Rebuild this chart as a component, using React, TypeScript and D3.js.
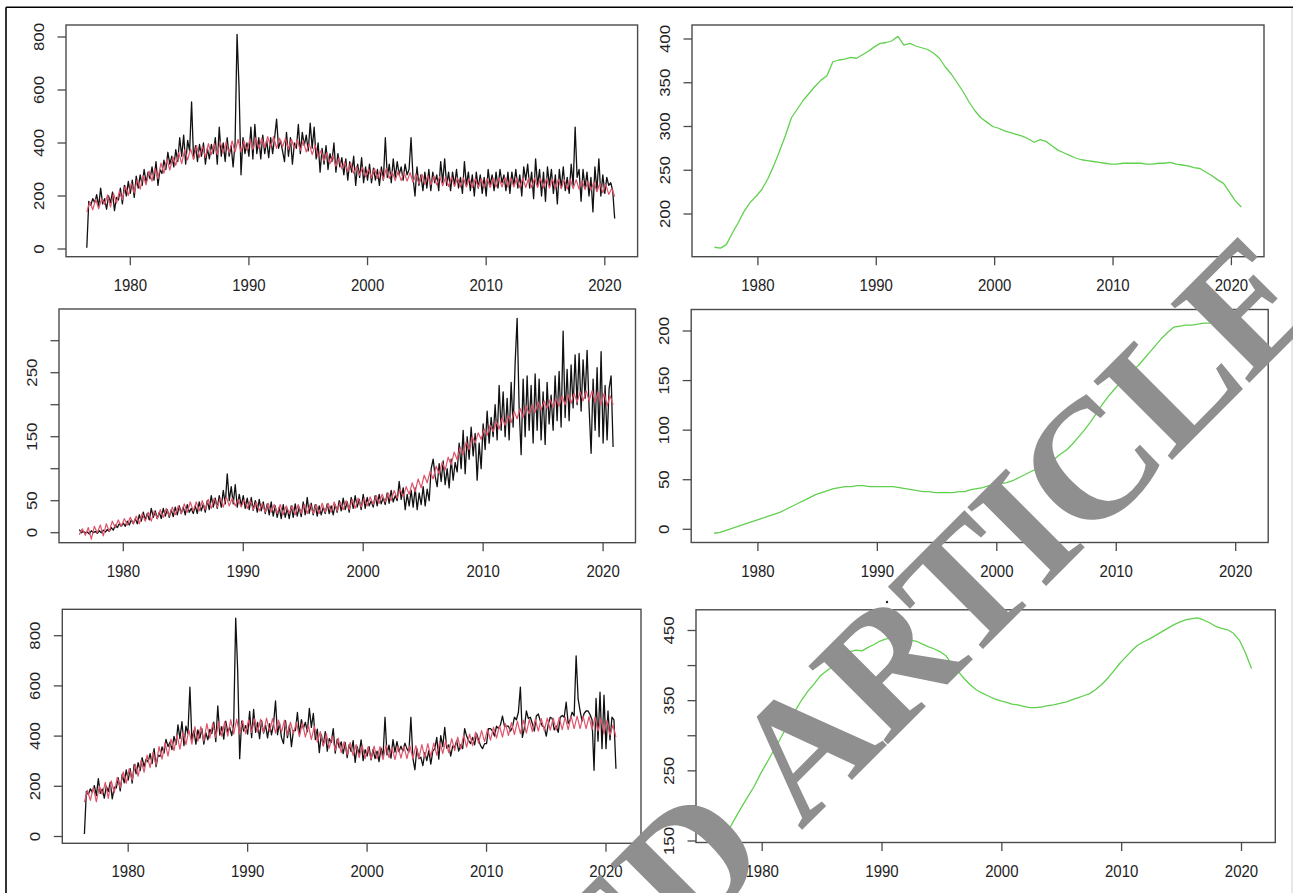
import React from 'react';
import * as d3 from 'd3';

// ---------- time index (monthly series, sampled) ----------
const START = 1976.333;
const END = 2020.833;
const YEAR_TICKS = [1980, 1990, 2000, 2010, 2020];

// ---------- Panel 1 (top-left): observed (black) and fitted (red) ----------
const p1Black = [
  5, 180, 165, 190,
  175, 205, 160, 230, 170, 190,
  150, 200, 175, 215, 145, 195,
  185, 230, 170, 240, 200, 255,
  210, 260, 195, 275, 230, 280,
  240, 300, 250, 290, 265, 310,
  260, 330, 240, 300, 285, 335,
  300, 365, 320, 350, 310, 375,
  330, 420, 350, 430, 320, 410,
  370, 555, 340, 390, 330, 395,
  350, 400, 320, 380, 340, 395,
  360, 420, 320, 460, 350, 400,
  330, 420, 350, 390, 310, 400,
  810, 610, 280, 420, 360, 400,
  350, 460, 340, 470, 360, 420,
  340, 430, 360, 410, 345, 420,
  360, 420, 490, 380, 410, 370,
  330, 440, 350, 420, 320, 400,
  380, 470, 360, 440, 390, 430,
  370, 475, 380, 460, 340, 400,
  290, 380, 320, 390, 300, 360,
  330, 400, 290, 360, 310, 345,
  280, 340, 260, 330, 290, 350,
  240, 320, 270, 345, 250, 310,
  260, 320, 250, 305, 260, 300,
  240, 310, 260, 420, 270, 320,
  250, 340, 270, 330, 280, 310,
  260, 320, 280, 300, 420, 270,
  200, 310, 240, 280, 220, 290,
  230, 300, 220, 290, 250, 280,
  220, 330, 250, 340, 240, 290,
  220, 290, 240, 300, 230, 270,
  210, 330, 240, 290, 220, 280,
  200, 290, 230, 280, 210, 270,
  200, 300, 240, 280, 220, 290,
  230, 300, 250, 280, 220, 290,
  210, 290, 240, 300, 230, 280,
  200, 310, 260, 320, 230, 290,
  190, 340, 240, 300, 200, 290,
  180, 310, 240, 300, 210, 280,
  170, 300, 230, 310, 220, 270,
  210, 320, 240, 460, 270, 300,
  180, 300, 230, 290, 200, 270,
  140, 310, 220, 340, 200, 280,
  210, 270, 240, 250, 220, 115,
];
const p1Red = [
  140, 178, 148,
  188, 152, 190, 168,
  204, 158, 210, 172,
  218, 186, 238, 202,
  248, 212, 262, 226,
  278, 242, 294, 256,
  304, 266, 324, 286,
  338, 298, 348, 316,
  364, 322, 374, 336,
  378, 338, 390, 346,
  388, 346, 398, 356,
  398, 356, 404, 362,
  404, 362, 408, 366,
  414, 366, 408, 372,
  414, 376, 420, 380,
  418, 382, 424, 386,
  424, 380, 418, 386,
  418, 376, 414, 380,
  412, 372, 408, 366,
  398, 356, 392, 346,
  372, 332, 364, 322,
  352, 312, 344, 302,
  328, 292, 324, 286,
  312, 278, 308, 272,
  302, 268, 304, 266,
  298, 262, 304, 266,
  292, 258, 294, 258,
  290, 256, 288, 252,
  284, 246, 282, 244,
  278, 242, 276, 242,
  274, 238, 272, 236,
  272, 236, 268, 234,
  268, 234, 266, 232,
  266, 232, 266, 232,
  266, 232, 268, 234,
  268, 234, 270, 234,
  268, 234, 268, 232,
  268, 232, 268, 232,
  268, 232, 266, 230,
  266, 230, 264, 228,
  264, 228, 262, 226,
  264, 228, 262, 226,
  258, 224, 256, 222,
  254, 216, 248, 212,
  244, 206, 228, 198,
];

// ---------- Panel 2 (top-right): trend (green) ----------
const p2Trend = [
  162, 161, 165, 178, 190, 203, 213, 220, 228, 240,
  255, 272, 290, 310, 320, 330, 338, 346, 353, 358,
  374, 376, 377, 379, 378, 382, 386, 391, 395, 396,
  398, 403, 393, 395, 392, 390, 388, 384, 378, 368,
  360, 350, 340, 328, 318, 310, 305, 300, 298, 295,
  293, 291, 289, 286, 282, 285, 283, 278, 273, 270,
  267, 264, 262, 261, 260, 259, 258, 257, 257, 258,
  258, 258, 258, 257, 257, 258, 258, 259, 257, 256,
  255, 253, 252, 248, 244, 239, 235, 225, 215, 208,
];

// ---------- Panel 3 (middle-left) ----------
const p3Black = [
  5, 0, 2, 0,
  1, -2, 3, 0, 2, -1,
  3, 0, 4, 1, 5, 2,
  8, 4, 12, 8, 14, 10,
  15, 10, 18, 12, 20, 14,
  22, 14, 28, 18, 32, 20,
  30, 20, 38, 24, 34, 22,
  32, 22, 38, 26, 36, 24,
  36, 25, 40, 28, 42, 30,
  40, 28, 44, 32, 38, 30,
  42, 30, 48, 34, 45, 32,
  50, 36, 58, 40, 54, 38,
  58, 40, 66, 45, 92, 50,
  72, 45, 75, 40, 60, 42,
  58, 38, 54, 36, 55, 35,
  50, 32, 52, 34, 48, 30,
  45, 28, 48, 26, 42, 24,
  40, 22, 44, 24, 38, 22,
  42, 24, 45, 26, 40, 25,
  48, 28, 55, 30, 46, 28,
  44, 26, 42, 28, 40, 30,
  45, 30, 42, 28, 44, 32,
  50, 34, 54, 36, 48, 32,
  55, 38, 58, 40, 52, 36,
  60, 38, 55, 42, 50, 40,
  58, 42, 60, 45, 55, 44,
  62, 46, 66, 48, 58, 50,
  80, 52, 70, 36, 60, 42,
  66, 40, 70, 36, 62, 44,
  72, 42, 68, 50, 100, 115,
  88, 72, 108, 80, 112, 75,
  100, 70, 115, 82, 110, 95,
  140, 100, 160, 92, 150, 115,
  165, 120, 155, 82, 140, 100,
  170, 130, 190, 140, 180, 150,
  200, 145, 230, 160, 220, 150,
  210, 145, 235, 165, 265, 335,
  195, 122, 240, 150, 245, 160,
  230, 140, 248, 160, 240, 145,
  220, 138, 235, 170, 215, 160,
  245, 175, 252, 165, 315, 180,
  255, 175, 262, 195, 278, 200,
  280, 190, 270, 210, 285, 195,
  124, 240, 160, 258, 150, 283,
  140, 230, 145, 225, 245, 134,
];
const p3Red = [
  -3, 6, -4,
  8, -10, 10, 0,
  12, -5, 14, 2,
  18, 8, 20, 10,
  22, 12, 24, 14,
  26, 14, 30, 18,
  32, 18, 34, 22,
  36, 24, 38, 26,
  40, 28, 42, 30,
  45, 32, 48, 34,
  48, 34, 50, 36,
  52, 38, 54, 40,
  54, 40, 56, 42,
  54, 42, 52, 40,
  52, 38, 50, 36,
  48, 34, 46, 32,
  46, 32, 44, 30,
  44, 28, 42, 30,
  42, 28, 44, 30,
  44, 30, 45, 30,
  44, 30, 46, 32,
  46, 32, 48, 34,
  48, 36, 50, 36,
  52, 38, 54, 40,
  54, 42, 56, 44,
  58, 46, 60, 48,
  62, 50, 66, 54,
  68, 56, 72, 60,
  78, 64, 84, 70,
  90, 78, 96, 84,
  104, 92, 110, 98,
  118, 106, 126, 114,
  134, 122, 142, 130,
  150, 140, 156, 146,
  162, 152, 168, 158,
  174, 162, 180, 168,
  184, 172, 190, 178,
  194, 180, 198, 186,
  200, 188, 204, 192,
  206, 194, 208, 196,
  210, 198, 214, 200,
  216, 202, 218, 204,
  220, 206, 222, 206,
  222, 204, 220, 200,
  218, 198, 214, 200,
];

// ---------- Panel 4 (middle-right) ----------
const p4Trend = [
  -4, -3, -1, 1, 3, 5, 7, 9, 11, 13,
  15, 17, 20, 23, 26, 29, 32, 35, 37, 39,
  41, 42, 43, 43, 44, 44, 43, 43, 43, 43,
  43, 42, 41, 40, 39, 38, 38, 37, 37, 37,
  37, 38, 38, 40, 41, 42, 44, 45, 46, 47,
  49, 52, 55, 58, 61, 64, 67, 71, 76, 80,
  86, 93, 100, 108, 117, 126, 134, 141, 148, 154,
  160, 165, 172, 179, 186, 193, 199, 204, 205, 206,
  206, 207, 208, 208, 209, 210, 211, 213, 212, 200,
];

// ---------- Panel 5 (bottom-left) ----------
const p5Black = [
  10, 180, 167, 190,
  176, 203, 163, 230, 172, 189,
  153, 200, 179, 216, 150, 197,
  193, 234, 182, 248, 214, 265,
  225, 270, 213, 287, 250, 294,
  262, 314, 278, 308, 297, 330,
  290, 350, 278, 324, 319, 357,
  332, 387, 358, 376, 346, 399,
  366, 445, 390, 458, 362, 440,
  410, 595, 384, 422, 368, 425,
  392, 430, 368, 414, 385, 427,
  410, 456, 378, 520, 404, 438,
  388, 460, 416, 435, 402, 450,
  870, 660, 310, 460, 420, 442,
  408, 498, 394, 506, 415, 455,
  390, 462, 412, 444, 393, 450,
  405, 448, 540, 406, 452, 394,
  370, 462, 394, 444, 358, 422,
  422, 494, 405, 466, 430, 455,
  418, 510, 435, 490, 386, 428,
  334, 406, 362, 418, 340, 390,
  375, 430, 332, 388, 354, 377,
  330, 374, 314, 366, 338, 382,
  295, 358, 328, 385, 302, 346,
  320, 358, 305, 347, 310, 340,
  298, 352, 320, 475, 325, 364,
  312, 386, 336, 378, 338, 360,
  340, 372, 350, 336, 475, 312,
  266, 350, 310, 316, 282, 334,
  302, 342, 288, 340, 350, 395,
  308, 402, 358, 435, 352, 365,
  320, 360, 355, 382, 340, 365,
  350, 430, 400, 382, 370, 395,
  365, 410, 385, 362, 350, 370,
  370, 430, 430, 420, 400, 440,
  430, 445, 480, 440, 440, 440,
  420, 435, 475, 465, 495, 595,
  395, 432, 500, 470, 475, 450,
  420, 480, 488, 460, 440, 435,
  400, 448, 475, 470, 425, 440,
  415, 475, 482, 475, 535, 450,
  465, 495, 480, 720, 548, 500,
  460, 490, 500, 500, 485, 465,
  264, 550, 380, 575, 350, 563,
  350, 500, 385, 475, 465, 270,
];
const p5Red = [
  137, 184, 144,
  196, 138, 200, 168,
  216, 152, 222, 174,
  236, 194, 258, 212,
  270, 224, 288, 240,
  304, 256, 324, 274,
  336, 284, 358, 308,
  374, 320, 388, 342,
  404, 348, 416, 366,
  424, 368, 438, 380,
  438, 380, 450, 392,
  452, 394, 458, 400,
  458, 400, 466, 408,
  468, 408, 462, 410,
  466, 414, 470, 416,
  468, 414, 472, 418,
  470, 412, 464, 416,
  464, 404, 456, 410,
  456, 398, 454, 396,
  444, 386, 440, 376,
  418, 360, 410, 352,
  400, 342, 392, 334,
  378, 326, 374, 322,
  366, 314, 364, 310,
  358, 308, 360, 310,
  358, 306, 364, 314,
  356, 306, 360, 312,
  360, 310, 362, 310,
  362, 310, 366, 314,
  370, 318, 372, 324,
  378, 330, 382, 334,
  390, 342, 396, 348,
  404, 356, 408, 362,
  416, 372, 422, 378,
  428, 384, 436, 392,
  442, 396, 450, 402,
  454, 406, 460, 410,
  464, 412, 466, 418,
  468, 420, 470, 422,
  472, 424, 472, 424,
  474, 426, 476, 426,
  480, 430, 480, 430,
  480, 430, 478, 426,
  476, 420, 470, 410,
  462, 404, 444, 396,
];

// ---------- Panel 6 (bottom-right) ----------
const p6Trend = [
  158, 160, 170, 185, 200, 214, 228, 245, 260, 275,
  290, 306, 322, 338, 352, 364, 374, 385, 392, 398,
  412, 418, 420, 422, 421, 426, 430, 435, 438, 439,
  441, 446, 436, 435, 431, 427, 424, 420, 414, 402,
  392, 382, 373, 366, 361, 357, 353, 350, 348, 345,
  344, 342, 340, 340, 341, 343, 344, 346, 348, 351,
  354, 357, 360, 366, 373, 382, 392, 403, 412, 421,
  429, 434, 438, 443, 448, 453, 458, 462, 465, 467,
  468, 465, 461, 456, 453, 451, 446, 436, 418, 396,
];

const P1_Y_TICKS = [0, 200, 400, 600, 800];
const P2_Y_TICKS = [200, 250, 300, 350, 400];
const P3_Y_TICKS = [0, 50, 100, 150, 200, 250, 300];
const P3_Y_LABELS = [0, 50, 150, 250];
const P4_Y_TICKS = [0, 50, 100, 150, 200];
const P5_Y_TICKS = [0, 200, 400, 600, 800];
const P6_Y_TICKS = [150, 200, 250, 300, 350, 400, 450];
const P6_Y_LABELS = [150, 250, 350, 450];

const WATERMARK_1 = 'RETRACTED';
const WATERMARK_2 = 'ARTICLE';

// ---------- styles ----------
const BLACK = '#111111';
const RED = '#DF536B';
const GREEN = '#61D04F';
const AXIS = '#4a4a4a';
const LABEL = '#222222';
const FONT = "'Liberation Sans', Arial, Helvetica, sans-serif";
const SERIF = "'Liberation Serif', 'Times New Roman', serif";

type Series = { values: number[]; color: string; width: number };
type PanelCfg = {
  key: string;
  box: [number, number, number, number]; // x0, x1, y0, y1
  xRange: [number, number]; // pixel of 1980, 2020
  yDomain: [number, number];
  yRange: [number, number];
  yTicks: number[];
  yLabels: number[];
  series: Series[];
};

const panels: PanelCfg[] = [
  {
    key: 'p1', box: [66, 637.6, 25, 256.7], xRange: [130.3, 604.8],
    yDomain: [0, 800], yRange: [249, 37], yTicks: P1_Y_TICKS, yLabels: P1_Y_TICKS,
    series: [{ values: p1Black, color: BLACK, width: 1.3 }, { values: p1Red, color: RED, width: 1.2 }],
  },
  {
    key: 'p2', box: [692, 1264, 25, 256.7], xRange: [757.9, 1231.4],
    yDomain: [200, 400], yRange: [214, 39], yTicks: P2_Y_TICKS, yLabels: P2_Y_TICKS,
    series: [{ values: p2Trend, color: GREEN, width: 1.3 }],
  },
  {
    key: 'p3', box: [59, 635.5, 309, 542.7], xRange: [123.3, 603.1],
    yDomain: [0, 300], yRange: [532.7, 340.7], yTicks: P3_Y_TICKS, yLabels: P3_Y_LABELS,
    series: [{ values: p3Black, color: BLACK, width: 1.3 }, { values: p3Red, color: RED, width: 1.2 }],
  },
  {
    key: 'p4', box: [691.2, 1268.2, 309.5, 542.5], xRange: [757.9, 1235.7],
    yDomain: [0, 200], yRange: [529.3, 331], yTicks: P4_Y_TICKS, yLabels: P4_Y_TICKS,
    series: [{ values: p4Trend, color: GREEN, width: 1.3 }],
  },
  {
    key: 'p5', box: [62.3, 641, 609.3, 843.3], xRange: [128.2, 606],
    yDomain: [0, 800], yRange: [836.5, 635.7], yTicks: P5_Y_TICKS, yLabels: P5_Y_TICKS,
    series: [{ values: p5Black, color: BLACK, width: 1.3 }, { values: p5Red, color: RED, width: 1.2 }],
  },
  {
    key: 'p6', box: [696, 1275.3, 609.8, 842.5], xRange: [762.2, 1241.5],
    yDomain: [150, 450], yRange: [841, 630.5], yTicks: P6_Y_TICKS, yLabels: P6_Y_LABELS,
    series: [{ values: p6Trend, color: GREEN, width: 1.3 }],
  },
];

const TICK = 8.5;
const FS = 15;
const STRETCH = 1.12;

function Panel({ cfg }: { cfg: PanelCfg }) {
  const [x0, x1, y0, y1] = cfg.box;
  const x = d3.scaleLinear().domain([1980, 2020]).range(cfg.xRange);
  const y = d3.scaleLinear().domain(cfg.yDomain).range(cfg.yRange);
  return (
    <g>
      {cfg.series.map((s, si) => {
        const n = s.values.length;
        const t = (i: number) => START + (i * (END - START)) / (n - 1);
        const line = d3.line<number>().x((_, i) => x(t(i))).y((d) => y(d));
        return (
          <path key={si} d={line(s.values) || ''} fill="none" stroke={s.color}
            strokeWidth={s.width} strokeLinejoin="round" />
        );
      })}
      <rect x={x0} y={y0} width={x1 - x0} height={y1 - y0} fill="none" stroke={AXIS} strokeWidth={1.4} />
      {YEAR_TICKS.map((yr) => (
        <g key={yr}>
          <line x1={x(yr)} x2={x(yr)} y1={y1} y2={y1 + TICK} stroke={AXIS} strokeWidth={1.3} />
          <text transform={`translate(${x(yr)},${y1 + 34}) scale(1,${STRETCH})`} textAnchor="middle"
            fontFamily={FONT} fontSize={FS} fill={LABEL}>{yr}</text>
        </g>
      ))}
      {cfg.yTicks.map((v) => (
        <line key={v} x1={x0 - TICK} x2={x0} y1={y(v)} y2={y(v)} stroke={AXIS} strokeWidth={1.3} />
      ))}
      {cfg.yLabels.map((v) => (
        <text key={v} transform={`translate(${x0 - 27},${y(v)}) scale(1,${STRETCH}) rotate(-90)`}
          textAnchor="middle" dominantBaseline="central" fontFamily={FONT} fontSize={FS} fill={LABEL}>{v}</text>
      ))}
    </g>
  );
}

export default function App() {
  return (
    <svg width={1293} height={893} style={{ position: 'absolute', left: 0, top: 0, background: '#fff' }}>
      <rect x={0} y={0} width={1293} height={893} fill="#fff" />
      {panels.map((p) => <Panel key={p.key} cfg={p} />)}
      <line x1={6} x2={1293} y1={7.3} y2={7.3} stroke="#000" strokeWidth={1.6} />
      <line x1={6} x2={6} y1={7.3} y2={893} stroke="#000" strokeWidth={1.6} />
      <line x1={1292} x2={1292} y1={8} y2={893} stroke="#d0d0d0" strokeWidth={1} />
      <circle cx={887} cy={602} r={1.2} fill="#222" />
      <text transform="translate(771,861) rotate(-45)" textAnchor="end" fontFamily={SERIF}
        fontWeight="bold" fontSize={170} letterSpacing={-4} fill="#8f8f8f">{WATERMARK_1}</text>
      <text transform="translate(801,831) rotate(-45)" textAnchor="start" fontFamily={SERIF}
        fontWeight="bold" fontSize={170} letterSpacing={-4} fill="#8f8f8f">{WATERMARK_2}</text>
    </svg>
  );
}
